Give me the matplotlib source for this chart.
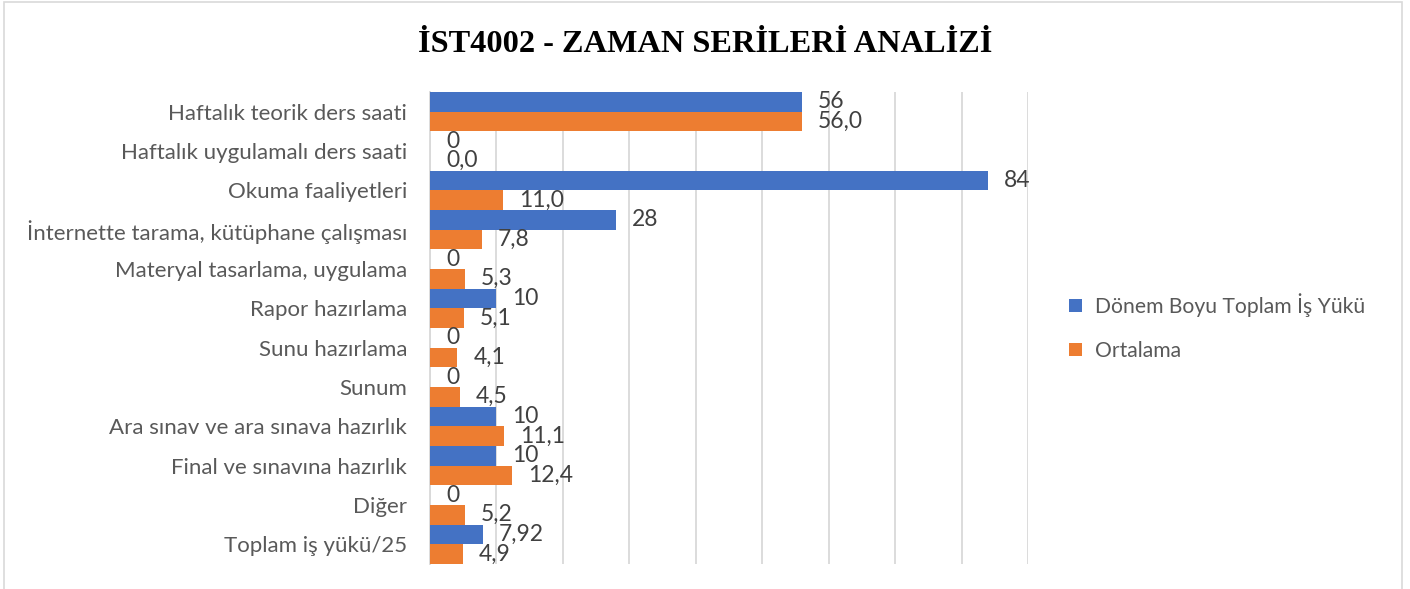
import matplotlib.pyplot as plt
import numpy as np
from matplotlib.patches import Rectangle

categories = [
    "Haftalık teorik ders saati",
    "Haftalık uygulamalı ders saati",
    "Okuma faaliyetleri",
    "İnternette tarama, kütüphane çalışması",
    "Materyal tasarlama, uygulama",
    "Rapor hazırlama",
    "Sunu hazırlama",
    "Sunum",
    "Ara sınav ve ara sınava hazırlık",
    "Final ve sınavına hazırlık",
    "Diğer",
    "Toplam iş yükü/25",
]
toplam = [56, 0, 84, 28, 0, 10, 0, 0, 10, 10, 0, 7.92]
toplam_labels = ["56", "0", "84", "28", "0", "10", "0", "0", "10", "10", "0", "7,92"]
ortalama = [56.0, 0.0, 11.0, 7.8, 5.3, 5.1, 4.1, 4.5, 11.1, 12.4, 5.2, 4.9]

blue = "#4472C4"
orange = "#ED7D31"
text_col = "#595959"
label_col = "#404040"
font = ["Lato", "DejaVu Sans"]

fig = plt.figure(figsize=(14.1, 5.89), dpi=100)
# outer chart border
fig.patches.append(Rectangle((4 / 1410, -0.05), 1398 / 1410, 1.05 - 2 / 589,
                             transform=fig.transFigure, fill=False,
                             edgecolor="#d9d9d9", linewidth=1.2))

ax = fig.add_axes([430 / 1410, 1 - 564 / 589, 598 / 1410, 472 / 589])

n = len(categories)
y = np.arange(n)
h = 0.5
ax.barh(y - h / 2, toplam, height=h, color=blue, label="Dönem Boyu Toplam İş Yükü", zorder=3)
ax.barh(y + h / 2, ortalama, height=h, color=orange, label="Ortalama", zorder=3)

ax.set_xlim(0, 90)
ax.set_ylim(n - 0.5, -0.5)
ax.set_xticks(np.arange(0, 91, 10))
ax.set_xticklabels([])
ax.tick_params(length=0)
ax.grid(axis="x", color="#d9d9d9", linewidth=1.3, zorder=0)
for s in ["top", "right", "bottom"]:
    ax.spines[s].set_visible(False)
ax.spines["left"].set_color("#d9d9d9")
ax.spines["left"].set_linewidth(1.3)

ax.set_yticks(y)
ax.set_yticklabels(categories, fontsize=16, color=text_col, family=font)
ax.tick_params(axis="y", pad=16.5)

px = 90 / 598
for i in range(n):
    ax.text(toplam[i] + 16 * px, y[i] - h / 2, toplam_labels[i], va="center", ha="left",
            fontsize=16.5, color=label_col, family=font)
    ax.text(ortalama[i] + 16 * px, y[i] + h / 2, f"{ortalama[i]:.1f}".replace(".", ","),
            va="center", ha="left", fontsize=16.5, color=label_col, family=font)

fig.text(0.5, 1 - 44 / 589, "İST4002 - ZAMAN SERİLERİ ANALİZİ", ha="center", va="center",
         fontsize=23.3, fontweight="bold", family=["Liberation Serif", "DejaVu Serif"])

fig.legend(loc="center left", bbox_to_anchor=(1050 / 1410, 1 - 327 / 589), frameon=False,
           prop={"family": font, "size": 15.2}, labelcolor=text_col,
           handlelength=0.62, handleheight=0.62, handletextpad=0.6, labelspacing=1.15)

fig.savefig("out.png", dpi=100)
